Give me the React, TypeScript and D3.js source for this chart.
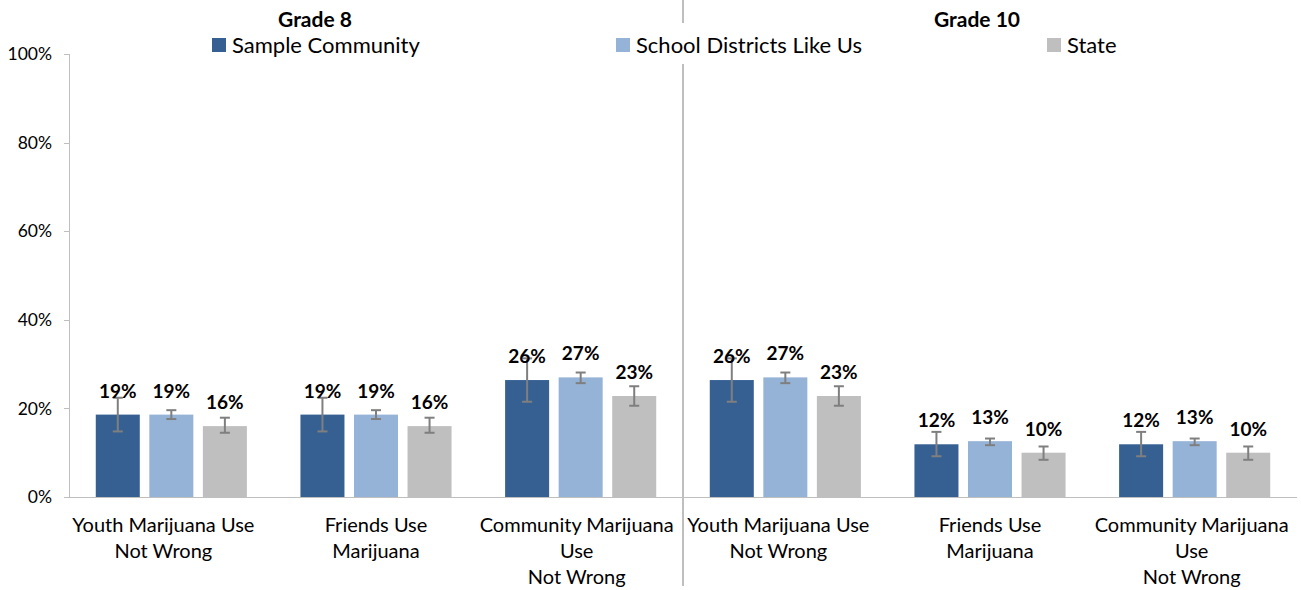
import React from "react";
import * as d3 from "d3";

const categories = [
  "Youth Marijuana Use|Not Wrong",
  "Friends Use|Marijuana",
  "Community Marijuana|Use|Not Wrong",
  "Youth Marijuana Use|Not Wrong",
  "Friends Use|Marijuana",
  "Community Marijuana|Use|Not Wrong",
];
const gradeTitles = ["Grade 8", "Grade 10"];
const seriesNames = ["Sample Community", "School Districts Like Us", "State"];
const sampleCommunity = [18.6, 18.6, 26.4, 26.4, 11.9, 11.9];
const schoolDistricts = [18.6, 18.6, 27.0, 27.0, 12.6, 12.6];
const stateValues = [16.0, 16.0, 22.8, 22.8, 10.0, 10.0];
const sampleLow = [14.8, 14.8, 21.5, 21.5, 9.2, 9.2];
const sampleHigh = [22.4, 22.4, 31.3, 31.3, 14.7, 14.7];
const districtLow = [17.6, 17.6, 25.7, 25.7, 11.7, 11.7];
const districtHigh = [19.6, 19.6, 28.1, 28.1, 13.2, 13.2];
const stateLow = [14.5, 14.5, 20.6, 20.6, 8.4, 8.4];
const stateHigh = [17.9, 17.9, 25.0, 25.0, 11.4, 11.4];
const yTicks = [0, 20, 40, 60, 80, 100];

const colors = ["#366092", "#95B3D7", "#BFBFBF"];
const FONT = "Lato, 'Open Sans', sans-serif";

export default function App() {
  const width = 1301;
  const height = 590;
  const x0 = d3.scaleBand<number>().domain(d3.range(categories.length)).range([69, 1297]);
  const x1 = d3
    .scaleBand<number>()
    .domain([0, 1, 2])
    .range([0, x0.bandwidth()])
    .paddingInner(0.178)
    .paddingOuter(0.5);
  const y = d3.scaleLinear().domain([0, 100]).range([497, 54]);

  const values = [sampleCommunity, schoolDistricts, stateValues];
  const lows = [sampleLow, districtLow, stateLow];
  const highs = [sampleHigh, districtHigh, stateHigh];
  const divX = x0(3)!;

  const legendX = [212, 616, 1047];
  const titleX = [315, 977];
  const labelShift = [-8, 0, -4, -7, 0, -3];

  return (
    <svg width={width} height={height} style={{ display: "block", position: "absolute", left: 0, top: 0 }} fontFamily={FONT}>
      <rect width={width} height={height} fill="#fff" />
      {/* divider */}
      <line x1={divX} x2={divX} y1={0} y2={23} stroke="#7f7f7f" strokeWidth={1} />
      <line x1={divX} x2={divX} y1={64} y2={586} stroke="#7f7f7f" strokeWidth={1} />
      {/* y axis */}
      <line x1={69.5} x2={69.5} y1={y(100)} y2={y(0)} stroke="#bfbfbf" />
      {yTicks.map((t) => (
        <g key={t}>
          <line x1={64} x2={69.5} y1={Math.round(y(t)) + 0.5} y2={Math.round(y(t)) + 0.5} stroke="#bfbfbf" />
          <text x={52} y={y(t)} dy="0.35em" textAnchor="end" fontSize={17.5} fill="#000">
            {t}%
          </text>
        </g>
      ))}
      {/* bars */}
      {categories.map((c, i) => (
        <g key={i} transform={`translate(${x0(i)},0)`}>
          {values.map((vals, s) => {
            const bx = x1(s)!;
            const bw = x1.bandwidth();
            const cx = bx + bw / 2;
            return (
              <g key={s}>
                <rect x={bx} y={y(vals[i])} width={bw} height={y(0) - y(vals[i])} fill={colors[s]} />
                <line x1={cx} x2={cx} y1={y(highs[s][i])} y2={y(lows[s][i])} stroke="#7f7f7f" strokeWidth={2} />
                <line x1={cx - 5} x2={cx + 5} y1={y(highs[s][i])} y2={y(highs[s][i])} stroke="#7f7f7f" strokeWidth={2} />
                <line x1={cx - 5} x2={cx + 5} y1={y(lows[s][i])} y2={y(lows[s][i])} stroke="#7f7f7f" strokeWidth={2} />
                <text x={cx} y={y(vals[i]) - 17} textAnchor="middle" fontSize={19} fontWeight="bold" fill="#000">
                  {Math.round(vals[i])}%
                </text>
              </g>
            );
          })}
          {c.split("|").map((line, k) => (
            <text
              key={k}
              x={x0.bandwidth() / 2 + labelShift[i]}
              y={525 + k * 26}
              dy="0.35em"
              textAnchor="middle"
              fontSize={20}
              fill="#000"
            >
              {line}
            </text>
          ))}
        </g>
      ))}
      {/* x axis */}
      <line x1={64} x2={1297} y1={497.5} y2={497.5} stroke="#bfbfbf" />
      {/* titles */}
      {gradeTitles.map((g, i) => (
        <text key={g} x={titleX[i]} y={20} dy="0.35em" textAnchor="middle" fontSize={21} fontWeight="bold" fill="#000">
          {g}
        </text>
      ))}
      {/* legend */}
      {seriesNames.map((n, i) => (
        <g key={n}>
          <rect x={legendX[i]} y={38} width={14} height={14} fill={colors[i]} />
          <text x={legendX[i] + 20} y={45} dy="0.35em" fontSize={22} fill="#000">
            {n}
          </text>
        </g>
      ))}
    </svg>
  );
}
